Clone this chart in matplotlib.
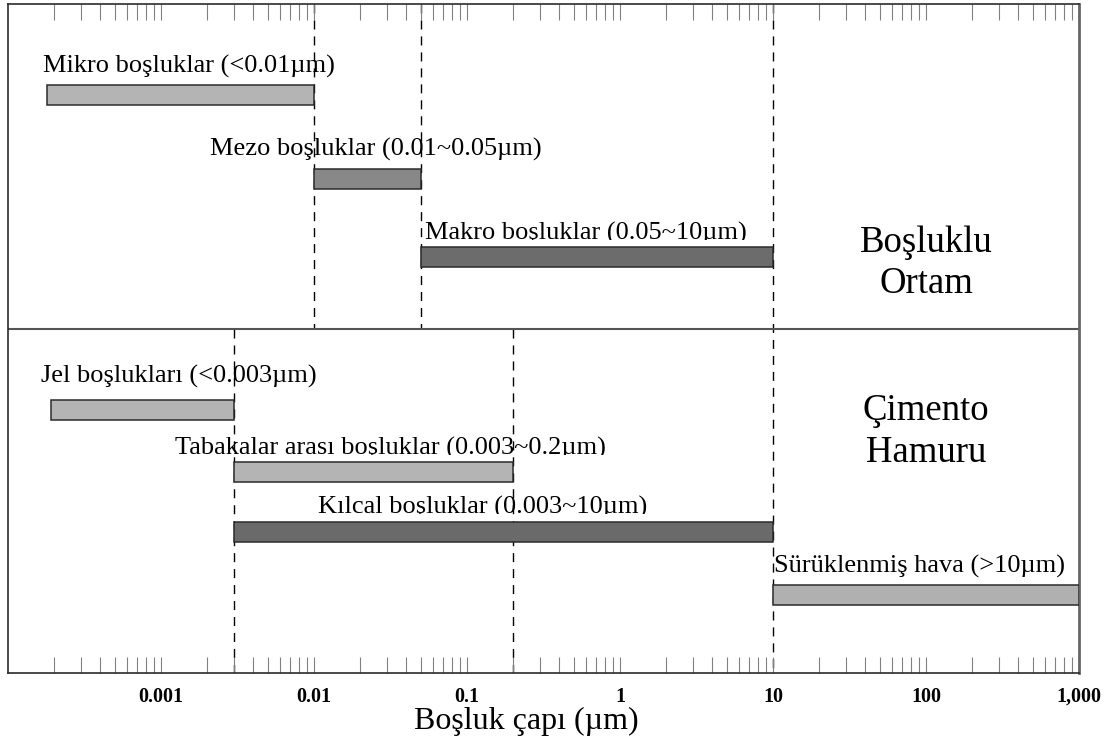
import numpy as np
import matplotlib.pyplot as plt
from matplotlib.patches import Rectangle
from matplotlib.ticker import LogLocator, FixedLocator, FixedFormatter, NullFormatter

plt.rcParams['font.family'] = ['Liberation Serif', 'DejaVu Serif']
plt.rcParams['lines.scale_dashes'] = False

# Pore classes: size range in micrometres
labels = ["Mikro boşluklar (<0.01µm)",
          "Mezo boşluklar (0.01~0.05µm)",
          "Makro boşluklar (0.05~10µm)",
          "Jel boşlukları (<0.003µm)",
          "Tabakalar arası boşluklar (0.003~0.2µm)",
          "Kılcal boşluklar (0.003~10µm)",
          "Sürüklenmiş hava (>10µm)"]
size_lo = [0.00018, 0.01, 0.05, 0.00019, 0.003, 0.003, 10]
size_hi = [0.01, 0.05, 10, 0.003, 0.2, 10, 1000]

# boundaries drawn as dashed lines in each panel
top_bounds = [0.01, 0.05]
bottom_bounds = [0.003, 0.2]
shared_bounds = [10]

tick_vals = [0.001, 0.01, 0.1, 1, 10, 100, 1000]
tick_text = ["0.001", "0.01", "0.1", "1", "10", "100", "1,000"]

# layout (vertical units = pixels from top of the frame)
bar_y = [91, 174.5, 253, 405.5, 468, 528, 590.5]
text_x = [0.000169, 0.00209, 0.053, 0.000165, 0.00124, 0.0106, 10.2]
text_y = [69, 152, 236, 379, 451, 510, 569]
clipped = [False, False, True, False, True, True, False]
colors = ['#b4b4b4', '#888888', '#6c6c6c', '#b4b4b4', '#b4b4b4', '#6a6a6a', '#b0b0b0']
divider = 325
H = 669

fig = plt.figure(figsize=(11.15, 7.44), dpi=100)
ax = fig.add_axes([8 / 1115, 1 - 673 / 744, 1071 / 1115, 669 / 744])
ax.set_xscale('log')
ax.set_xlim(1e-4, 1e3)
ax.set_ylim(H, 0)

# dashed boundaries
dash = (0, (6.5, 5))
ax.vlines(top_bounds, 0, divider, colors='black', linestyles=dash, lw=1.0, zorder=1)
ax.vlines(bottom_bounds, divider, H, colors='black', linestyles=dash, lw=1.0, zorder=1)
ax.vlines(shared_bounds, 0, H, colors='black', linestyles=dash, lw=1.0, zorder=1)
ax.axhline(divider, color='#555555', lw=1.5, zorder=2)

# bars
for lo, hi, y, c in zip(size_lo, size_hi, bar_y, colors):
    ax.barh(y, hi - lo, left=lo, height=20, color=c, edgecolor='#2b2b2b', lw=1.1, zorder=3)

# bar labels (some have their lower part hidden under the bar row)
for s, x, y, cl in zip(labels, text_x, text_y, clipped):
    t = ax.text(x, y, s, fontsize=19, ha='left', va='baseline', zorder=4)
    if cl:
        t.set_clip_on(True)
        t.set_clip_path(Rectangle((1e-4, 0), 1e3, y, transform=ax.transData))

# panel titles
ax.text(100, 248, "Boşluklu", fontsize=26.5, ha='center', va='baseline')
ax.text(100, 289, "Ortam", fontsize=26.5, ha='center', va='baseline')
ax.text(100, 416, "Çimento", fontsize=26.5, ha='center', va='baseline')
ax.text(100, 458, "Hamuru", fontsize=26.5, ha='center', va='baseline')

# axis ticks
ax.xaxis.set_major_locator(FixedLocator(tick_vals))
ax.xaxis.set_major_formatter(FixedFormatter(tick_text))
ax.xaxis.set_minor_locator(LogLocator(base=10, subs=np.arange(2, 10), numticks=20))
ax.xaxis.set_minor_formatter(NullFormatter())
ax.tick_params(axis='x', which='both', direction='in', top=True, bottom=True,
               length=11.5, width=0.8, color='#808080', pad=10)
ax.tick_params(axis='x', which='major', labelsize=14.5)
for lab in ax.get_xticklabels():
    lab.set_fontweight('bold')
ax.set_yticks([])

ax.set_xlabel("Boşluk çapı (µm)", fontsize=23)
ax.xaxis.set_label_coords(0.484, -0.05)

for side in ['left', 'top', 'bottom']:
    ax.spines[side].set_color('#2b2b2b')
    ax.spines[side].set_linewidth(1.2)
ax.spines['right'].set_color('#666666')
ax.spines['right'].set_linewidth(2)

fig.savefig('out.png', dpi=100)
